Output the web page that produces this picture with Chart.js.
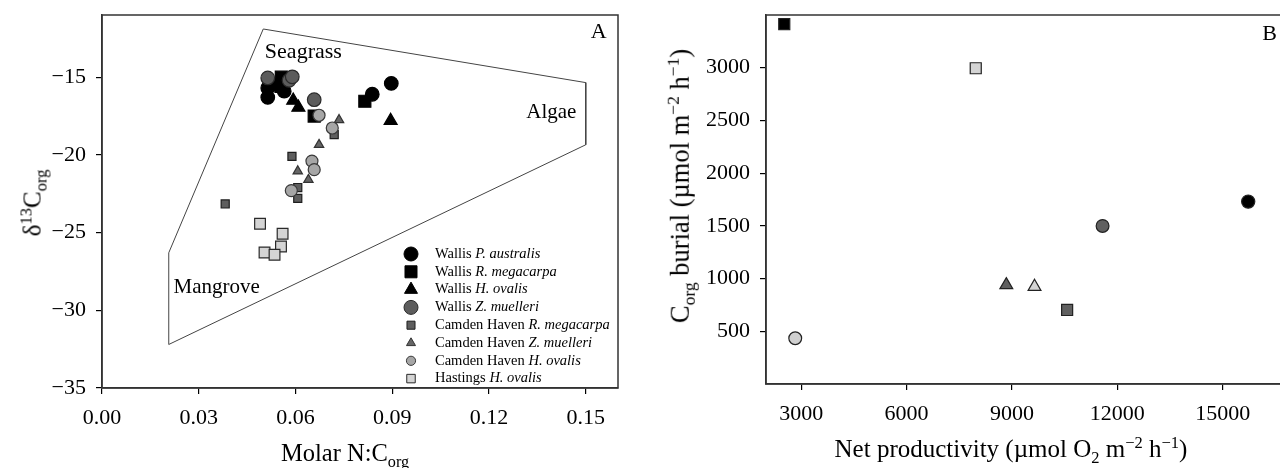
<!DOCTYPE html>
<html>
<head>
<meta charset="utf-8">
<script src="https://cdn.jsdelivr.net/npm/chart.js@4.4.1/dist/chart.umd.min.js"></script>
<style>
  body { margin: 0; width: 1280px; height: 468px; overflow: hidden; background: #fff; position: relative; font-family: "Liberation Serif", serif; }
  .wrap { position: absolute; top: 0; }
  .title { position: absolute; white-space: nowrap; color: #000; line-height: 1; }
  .rot { transform: translate(-50%, -50%) rotate(-90deg); }
  .hor { transform: translateX(-50%); }
  sub, sup { font-size: 0.66em; line-height: 0; }
</style>
</head>
<body>
<div class="wrap" style="left:0;width:640px;height:468px"><canvas id="chartA" width="640" height="468"></canvas></div>
<div class="wrap" style="left:640px;width:680px;height:468px"><canvas id="chartB" width="680" height="468"></canvas></div>

<div class="title rot" style="left:32px;top:203px;font-size:25px">δ<sup>13</sup>C<sub>org</sub></div>
<div class="title hor" style="left:345px;top:441px;font-size:24.5px">Molar N:C<sub>org</sub></div>
<div class="title rot" style="left:680px;top:186px;font-size:26.5px">C<sub>org</sub> burial (µmol m<sup>−2</sup> h<sup>−1</sup>)</div>
<div class="title hor" style="left:1011px;top:436px;font-size:25px">Net productivity (µmol O<sub>2</sub> m<sup>−2</sup> h<sup>−1</sup>)</div>

<script>
// panel A: tick values
var xTicksA = [0, 0.03, 0.06, 0.09, 0.12, 0.15];
var yTicksA = [-35, -30, -25, -20, -15];

// mixing polygon (Molar N:C, d13C)
var polyX = [0.0207, 0.0500, 0.1500, 0.1500, 0.0207, 0.0207];
var polyY = [-26.3, -11.9, -15.35, -19.35, -32.2, -26.3];

// panel A series, [N:C, d13C]
var wallisPA = [[0.0514, -16.3], [0.0514, -15.7], [0.0565, -15.9], [0.0838, -16.1], [0.0897, -15.4]];
var wallisRM = [[0.0525, -15.5], [0.0556, -15.0], [0.0555, -15.6], [0.0658, -17.5], [0.0815, -16.55]];
var wallisHO = [[0.0593, -16.5], [0.0609, -16.95], [0.0895, -17.8]];
var wallisZM = [[0.0514, -15.05], [0.0580, -15.2], [0.0590, -14.98], [0.0658, -16.45]];
var camdenRM = [[0.0382, -23.16], [0.0589, -20.1], [0.0607, -22.1], [0.0607, -22.8], [0.0720, -18.7]];
var camdenZM = [[0.0735, -17.75], [0.0673, -19.35], [0.0607, -21.05], [0.0640, -21.6]];
var camdenHO = [[0.0673, -17.45], [0.0714, -18.27], [0.0651, -20.4], [0.0658, -20.95], [0.0587, -22.3]];
var hastingsHO = [[0.0490, -24.43], [0.0560, -25.08], [0.0555, -25.9], [0.0504, -26.28], [0.0535, -26.43]];

// panel B: tick values
var xTicksB = [3000, 6000, 9000, 12000, 15000];
var yTicksB = [500, 1000, 1500, 2000, 2500, 3000];

// panel B, one point per site/species
var netProd = [2520, 7970, 15725, 11580, 8840, 9643, 10571, 2832];
var cBurial = [3413, 2995, 1730, 1499, 939, 923, 702, 434];

var serif = "Liberation Serif";

function pts(arr) {
    return arr.map(function(p) { return { x: p[0], y: p[1] }; });
}

function fixTicks(list) {
    return function(scale) {
        scale.ticks = list.map(function(v) { return { value: v }; });
    };
}

function minusFmt(v) {
    return v < 0 ? "\u2212" + Math.abs(v) : String(v);
}

// box round the plot area + free text
var framePlugin = {
    id: 'frame',
    afterDraw: function(chart) {
        var a = chart.chartArea;
        var ctx = chart.ctx;
        ctx.save();
        ctx.strokeStyle = '#333';
        ctx.lineWidth = 1.5;
        ctx.strokeRect(a.left, a.top, a.right - a.left, a.bottom - a.top);
        ctx.restore();
        var notes = chart.options.plugins.frame.notes || [];
        var xs = chart.scales.x, ys = chart.scales.y;
        notes.forEach(function(n) {
            ctx.save();
            ctx.font = n.size + 'px "' + serif + '"';
            ctx.fillStyle = '#000';
            ctx.textAlign = n.align || 'left';
            ctx.textBaseline = 'alphabetic';
            ctx.fillText(n.text, xs.getPixelForValue(n.x), ys.getPixelForValue(n.y));
            ctx.restore();
        });
    }
};

// legend for panel A with italic species names
var legendA = [
    ['Wallis ', 'P. australis'],
    ['Wallis ', 'R. megacarpa'],
    ['Wallis ', 'H. ovalis'],
    ['Wallis ', 'Z. muelleri'],
    ['Camden Haven ', 'R. megacarpa'],
    ['Camden Haven ', 'Z. muelleri'],
    ['Camden Haven ', 'H. ovalis'],
    ['Hastings ', 'H. ovalis']
];
var legendRadius = [7, 8.5, 7.5, 7, 5.7, 5.2, 4.6, 6];

var legendPlugin = {
    id: 'legendA',
    afterDraw: function(chart) {
        var ctx = chart.ctx;
        var x0 = 411, tx = 435, y0 = 254, dy = 17.8;
        var sets = chart.data.datasets.filter(function(d) { return !d.isPoly; });
        sets.forEach(function(ds, i) {
            var y = y0 + i * dy;
            ctx.save();
            ctx.fillStyle = ds.pointBackgroundColor;
            ctx.strokeStyle = ds.pointBorderColor;
            Chart.helpers.drawPoint(ctx, {
                pointStyle: ds.pointStyle, radius: legendRadius[i], rotation: 0,
                borderWidth: ds.pointBorderWidth
            }, x0, y);
            ctx.restore();
            ctx.save();
            ctx.fillStyle = '#000';
            ctx.textBaseline = 'middle';
            ctx.font = '14.5px "' + serif + '"';
            ctx.fillText(legendA[i][0], tx, y);
            var w = ctx.measureText(legendA[i][0]).width;
            ctx.font = 'italic 14.5px "' + serif + '"';
            ctx.fillText(legendA[i][1], tx + w, y);
            ctx.restore();
        });
    }
};

function series(data, style, radius, fill, border, order) {
    return {
        data: pts(data),
        pointStyle: style,
        pointRadius: radius,
        pointHoverRadius: radius,
        pointBackgroundColor: fill,
        pointBorderColor: border,
        pointBorderWidth: 1.2,
        showLine: false,
        order: order
    };
}

function axis(min, max, ticks, fmt, pad) {
    return {
        type: 'linear',
        min: min,
        max: max,
        afterBuildTicks: fixTicks(ticks),
        grid: { drawOnChartArea: false, drawTicks: true, tickLength: 6, color: '#000', lineWidth: 1.2 },
        border: { display: true, color: '#333', width: 1.5 },
        ticks: { color: '#000', font: { family: serif, size: 22 }, padding: pad, callback: fmt, maxRotation: 0, autoSkip: false }
    };
}

function fitX(h) {
    return function(s) { s.height = h; s.paddingLeft = 0; s.paddingRight = 0; };
}
function fitY(w) {
    return function(s) { s.width = w; s.paddingTop = 0; s.paddingBottom = 0; };
}

var chartA = new Chart(document.getElementById('chartA'), {
    type: 'scatter',
    data: {
        datasets: [
            {
                isPoly: true,
                data: polyX.map(function(x, i) { return { x: x, y: polyY[i] }; }),
                showLine: true,
                borderColor: '#444',
                borderWidth: 1,
                pointRadius: 0,
                fill: false,
                order: 20
            },
            series(wallisPA, 'circle', 6.8, '#000', '#000', 9),
            series(wallisRM, 'rect', 8.5, '#000', '#000', 8),
            series(wallisHO, 'triangle', 7.5, '#000', '#000', 7),
            series(wallisZM, 'circle', 6.8, '#5c5c5c', '#2a2a2a', 6),
            series(camdenRM, 'rect', 5.7, '#5e5e5e', '#1e1e1e', 5),
            series(camdenZM, 'triangle', 5.4, '#666', '#333', 4),
            series(camdenHO, 'circle', 6, '#a6a6a6', '#3a3a3a', 3),
            series(hastingsHO, 'rect', 7.6, '#d4d4d4', '#2a2a2a', 2)
        ]
    },
    options: {
        responsive: false,
        animation: false,
        layout: { padding: { left: 0, top: 15, right: 22, bottom: 0 } },
        plugins: {
            legend: { display: false },
            tooltip: { enabled: false },
            frame: {
                notes: [
                    { text: 'Seagrass', x: 0.0505, y: -13.75, size: 22 },
                    { text: 'Algae', x: 0.1471, y: -17.6, size: 21, align: 'right' },
                    { text: 'Mangrove', x: 0.0222, y: -28.9, size: 21 },
                    { text: 'A', x: 0.1565, y: -12.45, size: 22, align: 'right' }
                ]
            }
        },
        scales: {
            x: Object.assign(axis(0, 0.16, xTicksA, function(v) { return v.toFixed(2); }, 11), {
                afterFit: fitX(80)
            }),
            y: Object.assign(axis(-35, -11, yTicksA, minusFmt, 10), {
                afterFit: fitY(102)
            })
        }
    },
    plugins: [framePlugin, legendPlugin]
});

// panel B marker styles, same order as netProd / cBurial
var bStyle = ['rect', 'rect', 'circle', 'circle', 'triangle', 'triangle', 'rect', 'circle'];
var bFill = ['#000', '#d4d4d4', '#000', '#606060', '#606060', '#d4d4d4', '#606060', '#d0d0d0'];
var bRadius = [7.8, 7.8, 6.6, 6.4, 7.4, 7.4, 7.8, 6.4];

var chartB = new Chart(document.getElementById('chartB'), {
    type: 'scatter',
    data: {
        datasets: [{
            data: netProd.map(function(x, i) { return { x: x, y: cBurial[i] }; }),
            pointStyle: bStyle,
            pointRadius: bRadius,
            pointBackgroundColor: bFill,
            pointBorderColor: '#222',
            pointBorderWidth: 1.2
        }]
    },
    options: {
        responsive: false,
        animation: false,
        layout: { padding: { left: 0, top: 15, right: 27, bottom: 0 } },
        plugins: {
            legend: { display: false },
            tooltip: { enabled: false },
            frame: { notes: [{ text: 'B', x: 16540, y: 3264, size: 22, align: 'right' }] }
        },
        scales: {
            x: Object.assign(axis(2000, 17000, xTicksB, function(v) { return String(v); }, 11), {
                afterFit: fitX(84)
            }),
            y: Object.assign(axis(0, 3500, yTicksB, function(v) { return String(v); }, 10), {
                afterFit: fitY(126)
            })
        }
    },
    plugins: [framePlugin]
});
</script>
</body>
</html>
